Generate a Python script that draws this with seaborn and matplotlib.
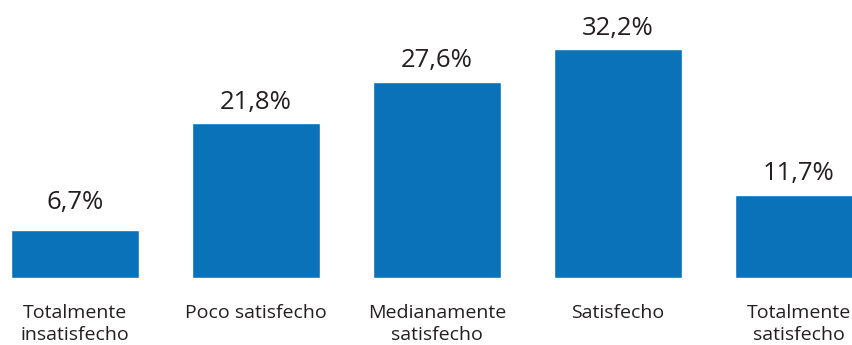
import matplotlib
matplotlib.use("Agg")
import matplotlib.pyplot as plt
import seaborn as sns
import pandas as pd

categories = ["Totalmente\ninsatisfecho", "Poco satisfecho", "Medianamente\nsatisfecho",
              "Satisfecho", "Totalmente\nsatisfecho"]
values = [6.7, 21.8, 27.6, 32.2, 11.7]
value_labels = ["6,7%", "21,8%", "27,6%", "32,2%", "11,7%"]

BAR_COLOR = "#0A72B9"
TEXT_COLOR = "#231F20"

sns.set_theme(style="white")
plt.rcParams["font.family"] = ["Open Sans", "DejaVu Sans"]

df = pd.DataFrame({"categoria": categories, "porcentaje": values})

fig = plt.figure(figsize=(8.53, 3.45), dpi=100)
ax = fig.add_axes([0, 0, 1, 1])
sns.barplot(data=df, x="categoria", y="porcentaje", color=BAR_COLOR,
            saturation=1, width=0.707, ax=ax)

ax.set_xlim(-0.414, 4.298)
ax.set_ylim(-9.42, 39.09)
ax.axis("off")

# short bars get their label lifted a little further
label_pad = [11, 6, 6, 6, 6]

for i, (v, lab, cat) in enumerate(zip(values, value_labels, categories)):
    ax.annotate(lab, xy=(i, v), xytext=(0, label_pad[i]), textcoords="offset points",
                ha="center", va="bottom", fontsize=18.5, color=TEXT_COLOR)
    ax.annotate(cat, xy=(i, 0), xytext=(0, -18.5), textcoords="offset points",
                ha="center", va="top", fontsize=14, color=TEXT_COLOR,
                linespacing=1.3)

fig.savefig("out.png", dpi=100)
